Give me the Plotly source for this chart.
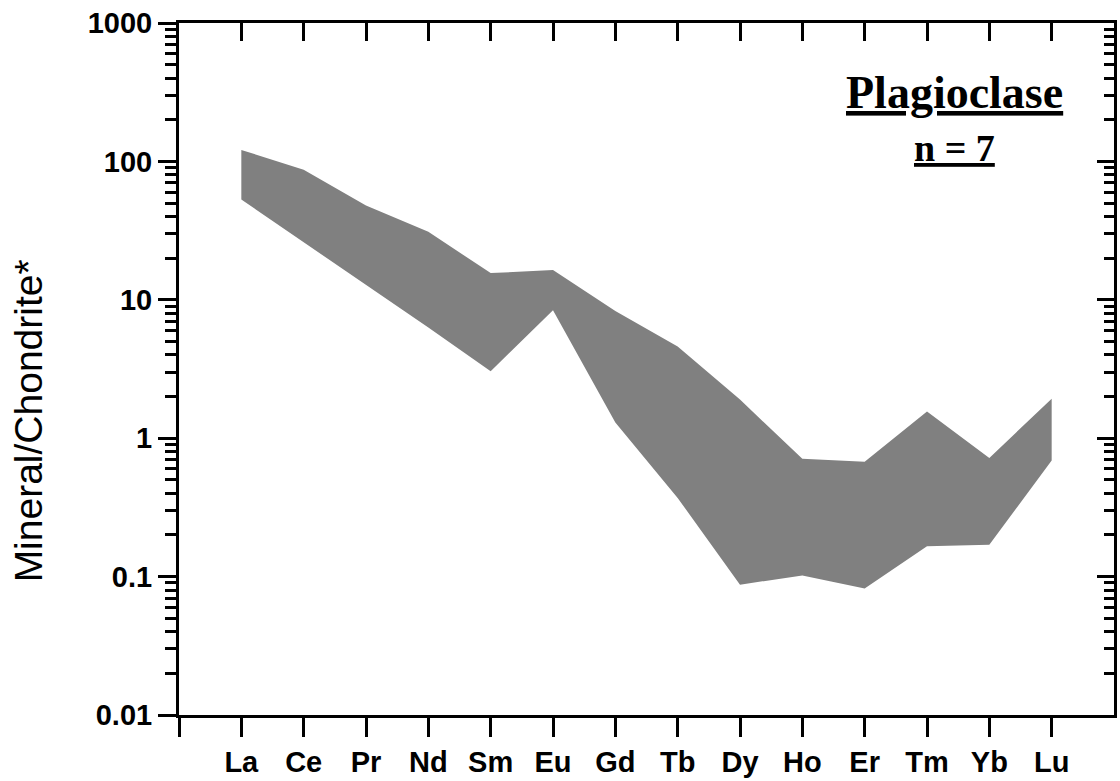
import plotly.graph_objects as go

elements = ["La", "Ce", "Pr", "Nd", "Sm", "Eu", "Gd", "Tb", "Dy", "Ho", "Er", "Tm", "Yb", "Lu"]
upper = [121, 87, 48, 31, 15.6, 16.4, 8.3, 4.6, 1.9, 0.71, 0.675, 1.56, 0.72, 1.93]
lower = [53, 26, 12.8, 6.3, 3.05, 8.4, 1.3, 0.37, 0.0875, 0.102, 0.082, 0.166, 0.17, 0.69]
y_major = [0.01, 0.1, 1, 10, 100, 1000]
y_major_text = ["0.01", "0.1", "1", "10", "100", "1000"]
y_minor = [m * d for d in [0.01, 0.1, 1, 10, 100] for m in range(2, 10)]

pos = list(range(1, len(elements) + 1))

fig = go.Figure()
fig.add_trace(go.Scatter(
    x=pos + pos[::-1], y=upper + lower[::-1],
    fill="toself", fillcolor="#808080", mode="lines",
    line=dict(width=0, color="#808080"), showlegend=False, hoverinfo="skip"))
# invisible trace for mirrored axes
fig.add_trace(go.Scatter(x=[pos[0]], y=[1], xaxis="x2", yaxis="y2",
                         mode="markers", marker=dict(opacity=0), showlegend=False, hoverinfo="skip"))

tickfont = dict(family="Liberation Sans, Arial, sans-serif", size=29, color="black")

fig.update_layout(
    width=1120, height=781,
    margin=dict(l=179, r=3, t=23, b=64),
    paper_bgcolor="white", plot_bgcolor="white",
    xaxis=dict(range=[0, 15], tickmode="array", tickvals=[0] + pos, ticktext=[""] + [f"<b>{e}</b>" for e in elements],
               ticks="outside", ticklen=19, tickwidth=3, tickcolor="black",
               showline=True, linewidth=3, linecolor="black", mirror=True,
               showgrid=False, zeroline=False, tickfont=tickfont),
    yaxis=dict(type="log", range=[-2, 3], tickmode="array", tickvals=y_major,
               ticktext=[f"<b>{t}</b>" for t in y_major_text],
               ticks="outside", ticklen=18, tickwidth=3, tickcolor="black",
               minor=dict(tickmode="array", tickvals=y_minor, ticks="outside", ticklen=11, tickwidth=2.5, tickcolor="black", showgrid=False),
               showline=True, linewidth=3, linecolor="black", mirror=True,
               showgrid=False, zeroline=False, tickfont=tickfont),
    xaxis2=dict(overlaying="x", side="top", range=[0, 15], tickmode="array", tickvals=pos,
                ticks="inside", ticklen=18, tickwidth=3, tickcolor="black",
                showticklabels=False, showline=False, showgrid=False, zeroline=False),
    yaxis2=dict(overlaying="y", side="right", type="log", range=[-2, 3], tickmode="array", tickvals=y_major,
                ticks="inside", ticklen=17, tickwidth=3, tickcolor="black",
                minor=dict(tickmode="array", tickvals=y_minor, ticks="inside", ticklen=10, tickwidth=2.5, tickcolor="black", showgrid=False),
                showticklabels=False, showline=False, showgrid=False, zeroline=False),
    annotations=[
        dict(text="Mineral/Chondrite*", xref="paper", yref="paper", x=-0.161, y=0.425,
             xanchor="center", yanchor="middle", textangle=-90, showarrow=False,
             font=dict(family="Liberation Sans, Arial, sans-serif", size=39, color="black")),
        dict(text="<b><u>Plagioclase</u></b>", xref="paper", yref="paper", x=(957 - 179) / 938, y=(717 - 93) / 694,
             xanchor="center", yanchor="middle", showarrow=False,
             font=dict(family="Liberation Serif, Times New Roman, serif", size=46, color="black")),
        dict(text="<b><u>n = 7</u></b>", xref="paper", yref="paper", x=(957 - 179) / 938, y=(717 - 148) / 694,
             xanchor="center", yanchor="middle", showarrow=False,
             font=dict(family="Liberation Serif, Times New Roman, serif", size=38, color="black")),
    ],
)

fig.write_html("out.html")
